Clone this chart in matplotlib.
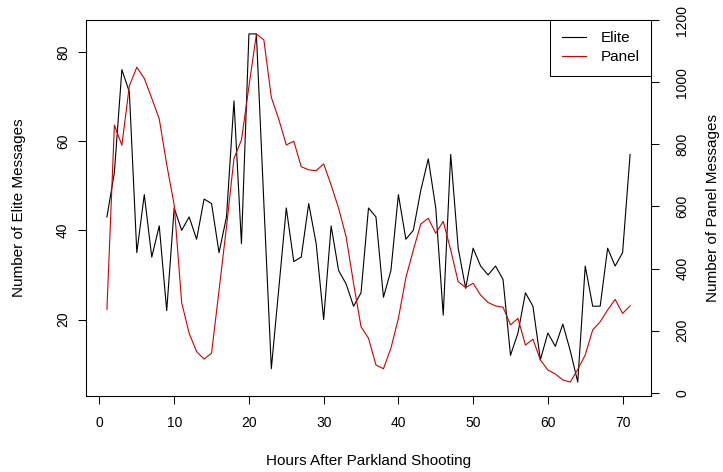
import numpy as np
import matplotlib
matplotlib.use('Agg')
import matplotlib.pyplot as plt

plt.rcParams['font.family'] = ['Liberation Sans', 'DejaVu Sans']

# Dados: mensagens por hora apos o tiroteio de Parkland
horas = np.arange(1, 72)
elite = [43, 53, 76, 71, 35, 48, 34, 41, 22, 45, 40, 43, 38, 47, 46, 35, 43, 69,
         37, 84, 84, 46, 9, 27, 45, 33, 34, 46, 37, 20, 41, 31, 28, 23, 26, 45,
         43, 25, 31, 48, 38, 40, 49, 56, 45, 21, 57, 36, 27, 36, 32, 30, 32, 29,
         12, 17, 26, 23, 11, 17, 14, 19, 13, 6, 32, 23, 23, 36, 32, 35, 57]
panel = [269, 862, 797, 988, 1048, 1012, 948, 882, 735, 605, 291, 192, 133, 109,
         128, 330, 535, 755, 814, 986, 1155, 1136, 951, 880, 798, 810, 728, 718,
         715, 737, 669, 594, 503, 353, 213, 176, 90, 78, 144, 240, 371, 460, 544,
         562, 514, 552, 460, 358, 339, 353, 315, 291, 280, 276, 219, 240, 154, 173,
         106, 74, 61, 42, 35, 76, 122, 203, 229, 267, 301, 256, 280]
ticks_x = [0, 10, 20, 30, 40, 50, 60, 70]
ticks_elite = [20, 40, 60, 80]
ticks_panel = [0, 200, 400, 600, 800, 1000, 1200]

W, H = 723, 472
fig = plt.figure(figsize=(W / 100, H / 100), dpi=100)
ax1 = fig.add_axes([86 / W, (H - 396) / H, (651 - 86) / W, (396 - 20) / H])


def faixa(v):
    # limites no estilo do R (4% de folga)
    lo, hi = min(v), max(v)
    d = (hi - lo) * 0.04
    return lo - d, hi + d


fs = 10      # numeros dos eixos
fs_tit = 11  # titulos dos eixos e legenda
cor_panel = '#D00000'

l1 = ax1.plot(horas, elite, color='black', linewidth=0.8, label='Elite')
ax1.set_xlim(faixa(horas))
ax1.set_ylim(faixa(elite))
ax1.set_xticks(ticks_x)
ax1.set_yticks(ticks_elite)
ax1.tick_params(axis='x', direction='out', length=5.5, width=0.75, pad=9, labelsize=fs)
ax1.tick_params(axis='y', direction='out', length=5.5, width=0.75, pad=6, labelsize=fs,
                labelrotation=90)
for t in ax1.get_yticklabels():
    t.set_verticalalignment('center')
ax1.set_xlabel('Hours After Parkland Shooting', fontsize=fs_tit, va='center')
ax1.xaxis.set_label_coords(0.5, (396 - 461) / 376)
ax1.set_ylabel('Number of Elite Messages', fontsize=fs_tit, va='center')
ax1.yaxis.set_label_coords((19 - 86) / 565, 0.5)

# Eixo da direita: painel
ax2 = ax1.twinx()
l2 = ax2.plot(horas, panel, color=cor_panel, linewidth=0.8, label='Panel')
ax2.set_ylim(faixa(panel))
ax2.set_yticks(ticks_panel)
ax2.tick_params(axis='y', direction='out', length=5.5, width=0.75, pad=12, labelsize=fs,
                labelrotation=90)
for t in ax2.get_yticklabels():
    t.set_verticalalignment('center')
ax2.set_ylabel('Number of Panel Messages', fontsize=fs_tit, va='center')
ax2.yaxis.set_label_coords((713 - 86) / 565, 0.5)

for ax in (ax1, ax2):
    for s in ax.spines.values():
        s.set_linewidth(0.75)
        s.set_color('black')

linhas = l1 + l2
leg = ax2.legend(linhas, [l.get_label() for l in linhas], loc='upper right',
                 fontsize=fs_tit, frameon=True, fancybox=False, framealpha=1,
                 edgecolor='black', borderaxespad=0, borderpad=0.75,
                 handlelength=1.6, handletextpad=0.95, labelspacing=0.3)
leg.get_frame().set_linewidth(0.75)

fig.savefig('out.png', dpi=100)
